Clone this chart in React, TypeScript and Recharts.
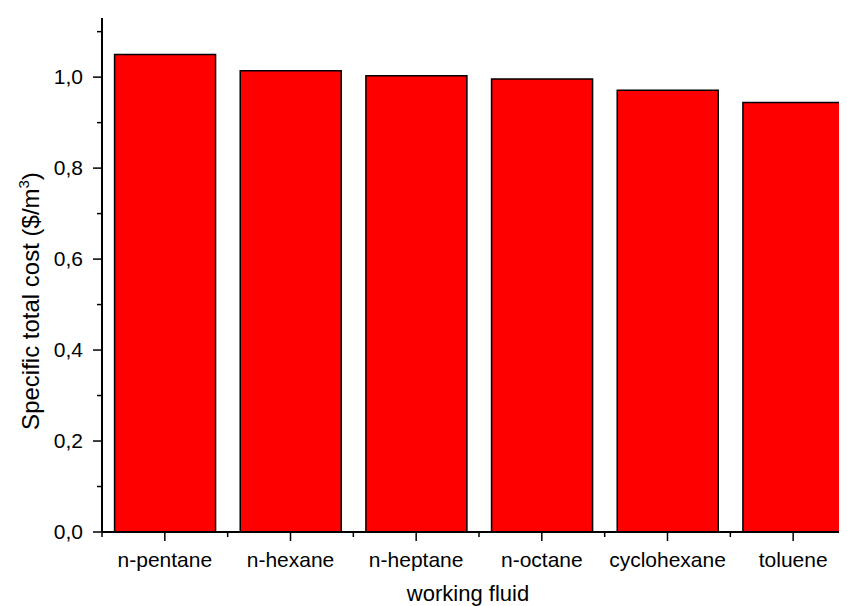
import React from 'react';
import { BarChart, Bar, XAxis, YAxis } from 'recharts';

const fluids = ['n-pentane', 'n-hexane', 'n-heptane', 'n-octane', 'cyclohexane', 'toluene'];
const specificTotalCost = [1.05, 1.014, 1.003, 0.996, 0.971, 0.944];
const yTicks = [0, 0.1, 0.2, 0.3, 0.4, 0.5, 0.6, 0.7, 0.8, 0.9, 1.0, 1.1];
const yMajorTicks = [0, 0.2, 0.4, 0.6, 0.8, 1.0];
const yDomain = [0, 1.13];
const xAxisTitle = 'working fluid';
const yAxisTitle = 'Specific total cost ($/m';
const yAxisTitleSup = '3';

const data = fluids.map((name, i) => ({ name, cost: specificTotalCost[i] }));

const FONT = '"Liberation Sans", Arial, sans-serif';
const CHART_W = 860;
const CHART_H = 598;
const MARGIN = { top: 10, right: 12, bottom: 0, left: 0 };
const Y_AXIS_W = 94;
const X_AXIS_H = 74;
const PLOT_W = CHART_W - MARGIN.left - MARGIN.right - Y_AXIS_W;
const HALF_BAND = PLOT_W / fluids.length / 2;

const YTick = (props: any) => {
  const { x, y, payload } = props;
  const v = payload.value;
  const major = yMajorTicks.some((m) => Math.abs(m - v) < 1e-6);
  return (
    <g>
      <line x1={x - (major ? 9 : 5)} x2={x} y1={y} y2={y} stroke="#000" strokeWidth={1.5} />
      {major && (
        <text x={x - 19} y={y} dy="0.35em" textAnchor="end" fontFamily={FONT} fontSize={21} fill="#000">
          {v.toFixed(1).replace('.', ',')}
        </text>
      )}
    </g>
  );
};

const XTick = (props: any) => {
  const { x, y, payload } = props;
  return (
    <g>
      <line x1={x} x2={x} y1={y} y2={y + 9} stroke="#000" strokeWidth={1.5} />
      <line x1={x - HALF_BAND} x2={x - HALF_BAND} y1={y} y2={y + 5} stroke="#000" strokeWidth={1.5} />
      <text x={x} y={y + 35} textAnchor="middle" fontFamily={FONT} fontSize={21} fill="#000">
        {payload.value}
      </text>
    </g>
  );
};

const XTitle = (props: any) => {
  const vb = props.viewBox;
  return (
    <text x={vb.x + 366} y={vb.y + 69} textAnchor="middle" fontFamily={FONT} fontSize={22} fill="#000">
      {xAxisTitle}
    </text>
  );
};

const YTitle = (props: any) => {
  const vb = props.viewBox;
  const cx = vb.x + 31;
  const cy = vb.y + 283;
  return (
    <text
      x={cx}
      y={cy}
      textAnchor="middle"
      transform={`rotate(-90 ${cx} ${cy})`}
      fontFamily={FONT}
      fontSize={24}
      fill="#000"
    >
      {yAxisTitle}
      <tspan dy={-10} fontSize={15}>{yAxisTitleSup}</tspan>
      <tspan dy={10}>)</tspan>
    </text>
  );
};

export default function App() {
  return (
    <div style={{ width: 839, height: 598, overflow: 'hidden', background: '#fff' }}>
      <BarChart
        width={CHART_W}
        height={CHART_H}
        data={data}
        margin={MARGIN}
        barCategoryGap="10%"
      >
        <XAxis
          dataKey="name"
          height={X_AXIS_H}
          tickLine={false}
          tickSize={0}
          tickMargin={0}
          interval={0}
          axisLine={{ stroke: '#000', strokeWidth: 2 }}
          tick={<XTick />}
          label={{ content: XTitle } as any}
        />
        <YAxis
          width={Y_AXIS_W}
          domain={yDomain}
          ticks={yTicks}
          interval={0}
          allowDataOverflow
          tickLine={false}
          tickSize={0}
          tickMargin={0}
          axisLine={{ stroke: '#000', strokeWidth: 2 }}
          tick={<YTick />}
          label={{ content: YTitle } as any}
        />
        <Bar dataKey="cost" fill="#FF0000" stroke="#000" strokeWidth={1.5} isAnimationActive={false} />
      </BarChart>
    </div>
  );
}
